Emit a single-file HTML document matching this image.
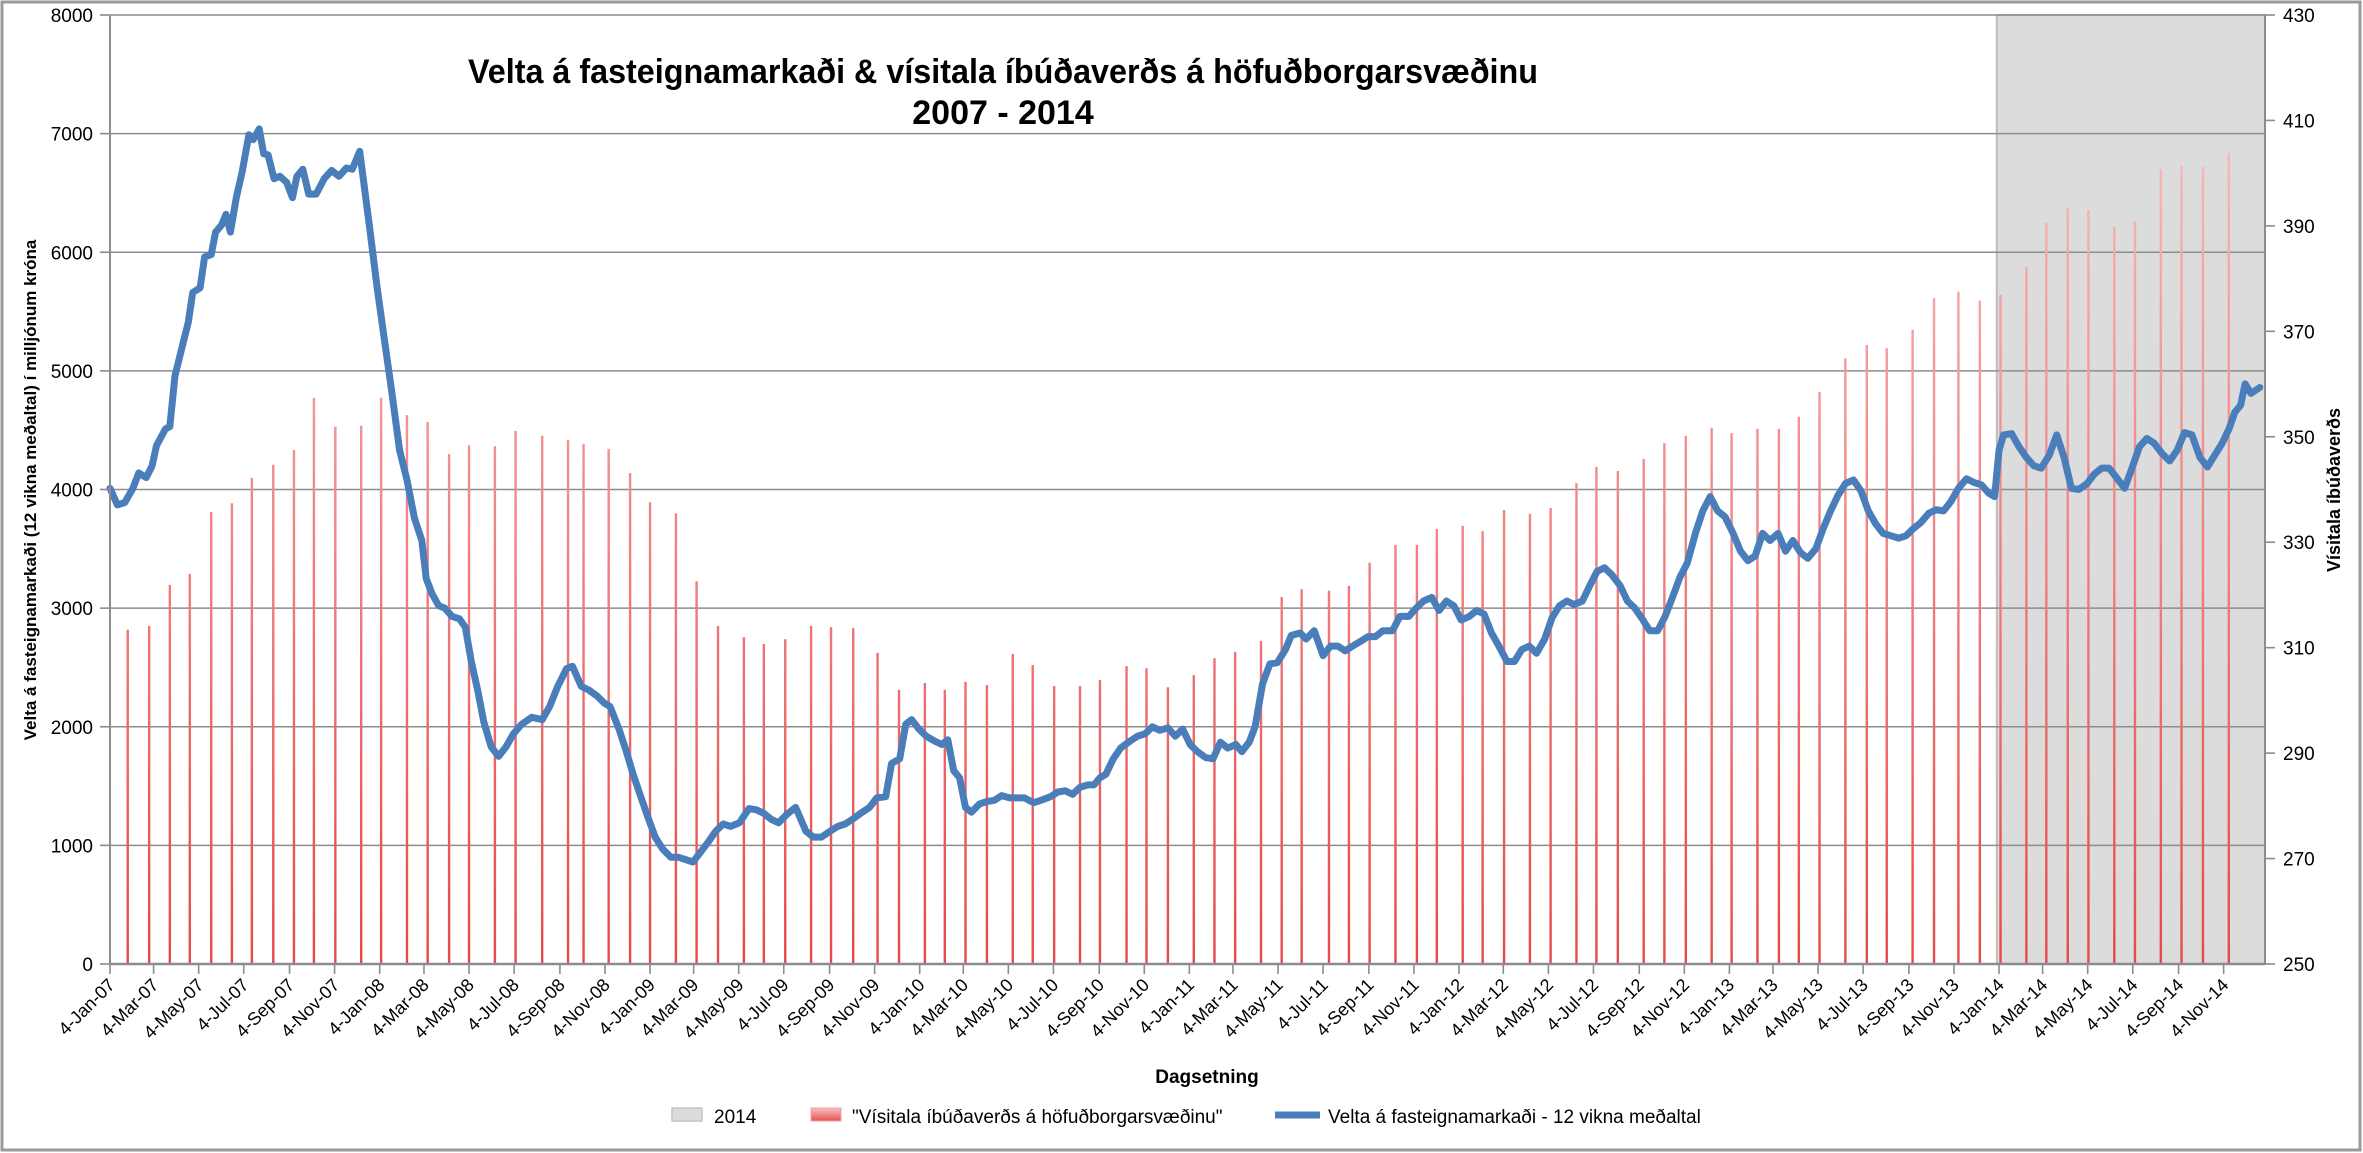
<!DOCTYPE html>
<html><head><meta charset="utf-8"><style>
html,body{margin:0;padding:0;background:#fff;}
svg{display:block;font-family:"Liberation Sans",sans-serif;}
</style></head><body>
<svg id="chart" width="2363" height="1153" viewBox="0 0 2363 1153" xmlns="http://www.w3.org/2000/svg">
<defs>
<linearGradient id="barGrad" gradientUnits="userSpaceOnUse" x1="0" y1="150" x2="0" y2="964">
<stop offset="0" stop-color="#f7b8b8"/><stop offset="1" stop-color="#e84848"/>
</linearGradient>
</defs>
<rect x="2" y="2" width="2358" height="1148" fill="#fff" stroke="#9a9a9a" stroke-width="3"/>
<g id="shade"></g>
<g id="grid"></g>
<g id="bars"></g>
<g id="line"></g>
<g id="axes"></g>
<text x="1003" y="83" text-anchor="middle" font-size="34" font-weight="bold" textLength="1070" lengthAdjust="spacingAndGlyphs">Velta á fasteignamarkaði &amp; vísitala íbúðaverðs á höfuðborgarsvæðinu</text>
<text x="1003" y="124" text-anchor="middle" font-size="34" font-weight="bold">2007 - 2014</text>
<text transform="translate(36,490) rotate(-90)" text-anchor="middle" font-size="17" font-weight="bold">Velta á fasteignamarkaði (12 vikna meðaltal) í milljónum króna</text>
<text transform="translate(2340,490) rotate(-90)" text-anchor="middle" font-size="18" font-weight="bold">Vísitala íbúðaverðs</text>
<text x="1207" y="1083" text-anchor="middle" font-size="19" font-weight="bold">Dagsetning</text>
<g>
<rect x="672" y="1108" width="30" height="13" fill="#dcdcdc" stroke="#c4c4c4" stroke-width="1.5"/>
<text x="714" y="1123" font-size="19">2014</text>
<rect x="811" y="1108" width="30" height="13" fill="url(#legGrad)" stroke="#f0a0a0"/>
<linearGradient id="legGrad" x1="0" y1="0" x2="0" y2="1"><stop offset="0" stop-color="#f6c0c0"/><stop offset="1" stop-color="#e85050"/></linearGradient>
<text x="852" y="1123" font-size="19">"Vísitala íbúðaverðs á höfuðborgarsvæðinu"</text>
<line x1="1275" y1="1115" x2="1320" y2="1115" stroke="#4a7ebb" stroke-width="7"/>
<text x="1328" y="1123" font-size="19">Velta á fasteignamarkaði - 12 vikna meðaltal</text>
</g>
</svg>
<script>
// Data: line series (days since 2007-01-04, value in millions ISK)
const lineDays = [0,10,20,31,39,49,57,63,75,81,88,96,106,112,122,128,137,143,151,157,163,171,179,188,194,202,208,214,222,230,239,247,253,261,269,279,290,300,310,320,328,338,351,361,371,381,392,402,412,422,428,436,445,453,463,473,481,489,498,506,516,526,536,546,557,571,585,595,606,618,626,638,648,659,669,677,689,699,708,718,728,738,748,759,769,779,789,799,810,820,830,840,852,865,875,885,895,905,916,928,942,952,963,975,985,995,1005,1016,1028,1038,1050,1058,1069,1077,1085,1095,1105,1116,1126,1134,1142,1150,1158,1166,1177,1187,1197,1207,1218,1228,1238,1250,1260,1273,1283,1293,1303,1313,1324,1332,1340,1348,1358,1368,1381,1391,1401,1411,1421,1432,1442,1452,1462,1472,1483,1493,1503,1513,1524,1532,1542,1550,1560,1570,1580,1591,1599,1611,1619,1630,1642,1652,1662,1672,1682,1693,1703,1713,1723,1736,1746,1758,1768,1778,1789,1799,1809,1819,1829,1840,1850,1860,1870,1880,1891,1901,1911,1921,1931,1942,1952,1962,1972,1982,1993,2003,2013,2023,2033,2044,2054,2064,2074,2084,2095,2105,2115,2125,2135,2146,2156,2166,2176,2186,2197,2207,2217,2227,2237,2247,2258,2268,2278,2288,2298,2309,2319,2329,2339,2349,2360,2370,2380,2390,2400,2411,2421,2431,2441,2451,2462,2472,2482,2492,2502,2513,2523,2533,2543,2551,2557,2563,2574,2584,2594,2604,2614,2625,2635,2645,2655,2665,2676,2686,2696,2706,2716,2727,2737,2747,2757,2767,2778,2788,2798,2808,2818,2829,2839,2849,2859,2869,2876,2884,2890,2898,2910];
const veltaValues = [4010,3870,3890,4010,4140,4100,4200,4370,4510,4530,4960,5160,5410,5660,5700,5960,5980,6170,6230,6320,6170,6460,6680,6990,6950,7040,6830,6820,6620,6640,6590,6460,6640,6700,6490,6490,6620,6690,6640,6710,6700,6850,6230,5730,5280,4840,4330,4080,3760,3570,3250,3120,3020,3000,2930,2910,2840,2550,2300,2040,1830,1750,1830,1940,2020,2080,2060,2170,2340,2490,2510,2340,2310,2260,2200,2170,1980,1790,1600,1420,1240,1070,970,900,900,880,860,940,1030,1120,1180,1160,1190,1310,1300,1270,1220,1190,1260,1320,1120,1070,1070,1120,1160,1180,1220,1270,1320,1400,1410,1690,1730,2020,2060,1980,1920,1880,1850,1890,1630,1570,1320,1280,1350,1370,1380,1420,1400,1400,1400,1360,1380,1410,1450,1460,1430,1490,1510,1510,1570,1600,1730,1820,1880,1920,1940,2000,1970,1990,1920,1980,1850,1790,1740,1730,1870,1820,1850,1790,1870,2000,2360,2530,2540,2650,2770,2790,2740,2810,2600,2680,2680,2640,2680,2720,2760,2760,2810,2810,2930,2930,3000,3060,3090,2980,3060,3020,2900,2930,2980,2950,2790,2680,2550,2550,2650,2680,2620,2740,2920,3020,3060,3030,3060,3190,3310,3340,3280,3190,3060,3000,2910,2810,2810,2930,3090,3260,3380,3630,3820,3940,3820,3770,3630,3480,3400,3440,3630,3570,3630,3480,3570,3470,3420,3500,3670,3820,3950,4050,4080,3990,3820,3710,3630,3610,3590,3610,3670,3720,3800,3830,3820,3900,4010,4090,4060,4040,3970,3940,4330,4460,4470,4360,4270,4200,4180,4290,4460,4270,4010,4000,4050,4130,4180,4180,4100,4010,4180,4360,4430,4390,4300,4240,4330,4480,4460,4270,4190,4290,4390,4520,4650,4710,4890,4810,4860];
// Data: index bars (days since 2007-01-04, index value)
const barDays = [24,53,81,108,137,165,192,221,249,276,305,340,367,402,430,459,486,521,549,585,620,641,675,704,731,766,794,823,858,885,914,949,976,1006,1039,1068,1103,1130,1158,1187,1222,1249,1278,1313,1340,1376,1403,1432,1467,1495,1523,1558,1586,1613,1650,1677,1705,1740,1769,1796,1831,1858,1887,1922,1950,1985,2012,2041,2076,2104,2133,2168,2195,2230,2259,2286,2314,2349,2378,2405,2440,2469,2502,2531,2559,2594,2621,2650,2678,2713,2741,2776,2804,2833,2868];
const indexValues = [313.4,314.1,321.9,324.0,335.7,337.4,342.2,344.7,347.5,357.4,351.9,352.1,357.4,354.1,352.8,346.7,348.4,348.2,351.1,350.2,349.4,348.6,347.7,343.1,337.6,335.5,322.6,314.1,312.0,310.7,311.6,314.1,313.9,313.7,309.0,302.0,303.3,302.0,303.5,302.9,308.8,306.7,302.7,302.7,303.9,306.5,306.1,302.5,304.8,308.0,309.2,311.3,319.6,321.1,320.8,321.7,326.1,329.5,329.5,332.5,333.1,332.1,336.1,335.4,336.5,341.2,344.3,343.5,345.8,348.8,350.2,351.7,350.7,351.5,351.5,353.8,358.5,364.9,367.4,366.8,370.3,376.3,377.5,375.8,376.9,382.2,390.6,393.4,393.0,389.8,390.9,400.8,401.4,401.2,403.8];
// Tick labels
const leftTicks = [0,1000,2000,3000,4000,5000,6000,7000,8000];
const rightTicks = [250,270,290,310,330,350,370,390,410,430];
const monthNames = ["Jan","Feb","Mar","Apr","May","Jun","Jul","Aug","Sep","Oct","Nov","Dec"];
const shadeStart = "2014-01-01";

const NS = "http://www.w3.org/2000/svg";
const PL = 110, PR = 2265, PT = 15, PB = 964;
const D0 = Date.UTC(2007,0,4), DMAX = 2917;
function xs(d){ return PL + d * (PR - PL) / DMAX; }
function yl(v){ return PB - v * (PB - PT) / 8000; }
function yr(v){ return PB - (v - 250) * (PB - PT) / 180; }
function dayOf(y,m,dd){ return (Date.UTC(y,m,dd) - D0) / 864e5; }
function mk(tag, attrs, parent){ const e = document.createElementNS(NS, tag); for (const k in attrs) e.setAttribute(k, attrs[k]); parent.appendChild(e); return e; }

// shaded 2014
const sp = shadeStart.split("-").map(Number);
const sx = xs(dayOf(sp[0], sp[1]-1, sp[2]));
const shade = mk("rect", {x:sx, y:PT, width:PR-sx, height:PB-PT, fill:"#dcdcdc", stroke:"#bdbdbd", "stroke-width":2}, document.getElementById("shade"));



// gridlines and left axis
const grid = document.getElementById("grid"), axes = document.getElementById("axes");
leftTicks.forEach(v => {
  const y = yl(v);
  if (v > 0) {
    const g = mk("line", {x1:PL, x2:PR, y1:y, y2:y, stroke:"#8c8c8c", "stroke-width":1.6}, grid);
    
    
  }
  mk("line", {x1:PL-10, x2:PL, y1:y, y2:y, stroke:"#8c8c8c", "stroke-width":1.6}, axes);
  const t = mk("text", {x:PL-17, y:y+7, "text-anchor":"end", "font-size":19}, axes);
  t.textContent = v;
  
  
});
rightTicks.forEach(v => {
  const y = yr(v);
  mk("line", {x1:PR, x2:PR+10, y1:y, y2:y, stroke:"#8c8c8c", "stroke-width":1.6}, axes);
  const t = mk("text", {x:PR+18, y:y+7, "font-size":19}, axes);
  t.textContent = v;
  
  
});
mk("line", {x1:PL, x2:PL, y1:PT, y2:PB, stroke:"#8c8c8c", "stroke-width":2}, axes);
mk("line", {x1:PR, x2:PR, y1:PT, y2:PB, stroke:"#8c8c8c", "stroke-width":2}, axes);
mk("line", {x1:PL, x2:PR, y1:PB, y2:PB, stroke:"#8c8c8c", "stroke-width":2.5}, axes);

// x ticks
for (let y = 2007; y <= 2014; y++) {
  for (let m = 0; m < 12; m += 2) {
    const x = xs(dayOf(y, m, 4));
    mk("line", {x1:x, x2:x, y1:PB, y2:PB+10, stroke:"#8c8c8c", "stroke-width":1.6}, axes);
    const t = mk("text", {transform:"translate(" + (x+6) + "," + (PB+22) + ") rotate(-45)", "text-anchor":"end", "font-size":18}, axes);
    t.textContent = "4-" + monthNames[m] + "-" + String(y).slice(2);
    
    
  }
}

// bars
const barsG = document.getElementById("bars");
const nb = Math.min(barDays.length, indexValues.length);
for (let i = 0; i < nb; i++) {
  const x = xs(barDays[i]);
  const b = mk("line", {x1:x, x2:x, y1:PB, y2:yr(indexValues[i]), stroke:"url(#barGrad)", "stroke-width":2.4}, barsG);
  
  
}

// line
const n = Math.min(lineDays.length, veltaValues.length);
let d = "";
for (let i = 0; i < n; i++) d += (i ? "L" : "M") + xs(lineDays[i]).toFixed(1) + "," + yl(veltaValues[i]).toFixed(1);
const path = mk("path", {d:d, fill:"none", stroke:"#4a7ebb", "stroke-width":7, "stroke-linejoin":"round", "stroke-linecap":"round"}, document.getElementById("line"));


</script>
</body></html>
